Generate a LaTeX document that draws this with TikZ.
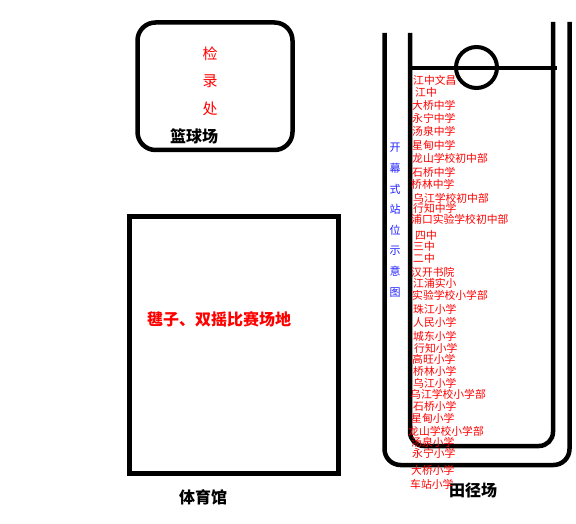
\documentclass[tikz,border=0pt]{standalone}
\usepackage{fontspec}
\setmainfont{Noto Sans CJK SC}
\usetikzlibrary{positioning}
\definecolor{mapred}{RGB}{255,0,0}
\definecolor{mapblue}{RGB}{30,30,255}
\tikzset{
    wall/.style={line width=4.5pt},
    bigred/.style={text=mapred, inner sep=0pt, font=\fontsize{16}{16}\selectfont\bfseries},
    hall/.style={inner sep=0pt, font=\fontsize{16}{16}\selectfont\bfseries},
    school/.style={anchor=west, inner sep=0pt, text=mapred, font=\fontsize{10.8}{10.8}\selectfont},
    legend/.style={inner sep=0pt, text=mapblue, font=\fontsize{11}{11}\selectfont}
}

\begin{document}
\begin{tikzpicture}[x=1pt, y=-1pt]
    \useasboundingbox (0,0) rectangle (576,524);
    % basketball court
    \draw[wall, rounded corners=18pt] (137.5,22.5) rectangle (292.5,150);
    \foreach \i/\c in {0/检, 1/录, 2/处}
        \node[bigred, font=\fontsize{15}{15}\selectfont] (jl\i) at (210,54+27.5*\i) {\c};
    \node[hall] (lanqiu) at (194,136) {篮球场};
    % gym
    \draw[wall] (129.5,216.5) rectangle (338.5,473.5);
    \node[bigred, anchor=west] (jianzi) at (147,319) {毽子、双摇比赛场地};
    \node[hall] (tiyu) at (203,497) {体育馆};
    % track
    \draw[wall, rounded corners=16pt] (384.5,33) -- (384.5,465) -- (569.5,465) -- (569.5,22);
    \draw[wall, rounded corners=14pt] (410,33) -- (410,446) -- (553,446) -- (553,22);
    \draw[wall] (410,68) -- (557,68);
    \draw[line width=4pt] (476.5,67.5) circle (20.5pt);
    \node[hall] (tianjing) at (473,490) {田径场};
    % legend
    \foreach \i/\c in {0/开, 1/幕, 2/式, 3/站, 4/位, 5/示, 6/意, 7/图}
        \node[legend] (lg\i) at (395,148+20.6*\i) {\c};
    % schools
    \foreach \x/\y/\t [count=\n] in {
        413/80/江中文昌, 415/92/江中, 412/105/大桥中学, 412/118/永宁中学,
        412/131/汤泉中学, 412/145/星甸中学, 412/158/龙山学校初中部,
        412/172/石桥中学, 411/184/桥林中学, 413/198/乌江学校初中部,
        413/208.5/行知中学, 411/219.5/浦口实验学校初中部, 415/235/四中,
        413/246/三中, 413/258/二中, 411/272/汉开书院, 413/283/江浦实小,
        412/295/实验学校小学部, 413/309/珠江小学, 413/322/人民小学,
        413/336/城东小学, 414/348/行知小学, 412/359/高旺小学,
        413/371.5/桥林小学, 413/383/乌江小学, 410/394.5/乌江学校小学部,
        413/406/石桥小学, 411/418/星甸小学, 408/431/龙山学校小学部,
        411/442/汤泉小学, 412/453/永宁小学, 411/470/大桥小学, 410/484/车站小学}
        \node[school] (sc\n) at (\x,\y) {\t};
\end{tikzpicture}
\end{document}
